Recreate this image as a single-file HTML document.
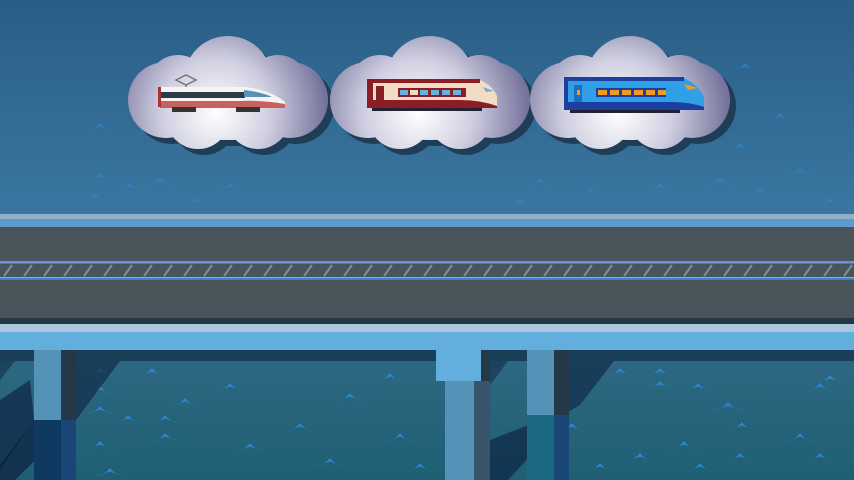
<!DOCTYPE html>
<html><head><meta charset="utf-8"><style>
html,body{margin:0;padding:0;width:854px;height:480px;overflow:hidden;background:#2b6089}
svg{display:block}
</style></head><body>
<svg width="854" height="480" viewBox="0 0 854 480" xmlns="http://www.w3.org/2000/svg">
<defs>
<linearGradient id="sky" x1="0" y1="0" x2="0" y2="1">
<stop offset="0" stop-color="#2a5d86"/><stop offset="1" stop-color="#3a77a0"/>
</linearGradient>
<linearGradient id="water" x1="0" y1="0" x2="0" y2="1">
<stop offset="0" stop-color="#2f6883"/><stop offset="1" stop-color="#1f5f74"/>
</linearGradient>
<radialGradient id="cg" gradientUnits="userSpaceOnUse" cx="-12" cy="18" r="110"><stop offset="0" stop-color="#ffffff"/><stop offset="0.5" stop-color="#cfcee0"/><stop offset="1" stop-color="#75739c"/></radialGradient>
<g id="cloud">
<circle cx="0" cy="-15" r="44"/>
<circle cx="-62" cy="5" r="38"/>
<circle cx="62" cy="5" r="38"/>
<circle cx="-30" cy="22" r="32"/>
<circle cx="30" cy="22" r="32"/>
<circle cx="-50" cy="-10" r="30"/>
<circle cx="50" cy="-10" r="30"/>
<ellipse cx="0" cy="10" rx="70" ry="35"/>
</g>
<path id="wave" d="M-14 1 Q-5 0 0 -7 Q5 0 14 1 Q5 -1.5 0 -3.5 Q-5 -1.5 -14 1Z" fill="#2a88d4"/>
</defs>
<rect width="854" height="215" fill="url(#sky)"/>
<g opacity="0.75">
<use href="#wave" x="100" y="180"/><use href="#wave" x="130" y="190"/><use href="#wave" x="160" y="185"/><use href="#wave" x="230" y="190"/><use href="#wave" x="95" y="200"/><use href="#wave" x="195" y="205"/><use href="#wave" x="540" y="185"/><use href="#wave" x="590" y="195"/><use href="#wave" x="660" y="190"/><use href="#wave" x="720" y="185"/><use href="#wave" x="760" y="195"/><use href="#wave" x="800" y="175"/><use href="#wave" x="740" y="150"/><use href="#wave" x="780" y="120"/><use href="#wave" x="745" y="70"/><use href="#wave" x="100" y="130"/><use href="#wave" x="520" y="205"/><use href="#wave" x="830" y="205"/>
</g>
<!-- clouds -->
<g fill="#1f3d56"><use href="#cloud" x="234" y="101"/><use href="#cloud" x="436" y="101"/><use href="#cloud" x="636" y="101"/></g>
<g fill="url(#cg)">
<use href="#cloud" x="228" y="95"/>
<use href="#cloud" x="430" y="95"/>
<use href="#cloud" x="630" y="95"/>
</g>
<!-- train 1 -->
<g>
<path d="M176 80 L186 75 L196 80 L186 85Z" fill="none" stroke="#777" stroke-width="1.5"/>
<line x1="186" y1="85" x2="186" y2="88" stroke="#555"/>
<path d="M160 87 L245 87 Q270 90 285 102 L285 106 L160 106Z" fill="#f4f4f4"/>
<rect x="160" y="92" width="85" height="6" fill="#2d3a4a"/>
<path d="M244 90 Q262 92 272 97 L244 97Z" fill="#5a8fb8"/>
<path d="M160 101 L240 101 Q262 100 285 104 L285 108 L160 108Z" fill="#c9605e"/>
<rect x="158" y="87" width="3" height="20" fill="#a33"/>
<rect x="172" y="107" width="24" height="5" fill="#333"/><rect x="236" y="107" width="24" height="5" fill="#333"/>
</g>
<!-- train 2 -->
<g>
<path d="M367 80 L480 80 Q493 86 497 96 L497 108 L367 108Z" fill="#f3dcc4"/>
<rect x="367" y="79" width="113" height="4" fill="#8b1d25"/>
<rect x="367" y="80" width="6" height="28" fill="#8b1d25"/>
<rect x="376" y="86" width="8" height="20" fill="#8b1d25"/>
<rect x="398" y="88" width="68" height="9" fill="#8b1d25"/>
<g fill="#6ab0e0"><rect x="400" y="90" width="8" height="5"/><rect x="410" y="90" width="8" height="5" fill="#f3dcc4"/><rect x="420" y="90" width="8" height="5"/><rect x="431" y="90" width="8" height="5"/><rect x="442" y="90" width="8" height="5"/><rect x="453" y="90" width="8" height="5"/></g>
<path d="M367 100 L460 100 Q480 100 497 106 L497 108 L367 108Z" fill="#8b1d25"/>
<path d="M483 87 L494 91 L486 92Z" fill="#6ab0e0"/>
<rect x="372" y="108" width="110" height="3" fill="#223"/>
</g>
<!-- train 3 -->
<g>
<path d="M564 78 L684 78 Q700 86 704 98 L704 108 L564 108Z" fill="#2fa0e6"/>
<rect x="564" y="77" width="120" height="4" fill="#1c3fa0"/>
<rect x="564" y="80" width="4" height="28" fill="#1c3fa0"/>
<rect x="574" y="85" width="8" height="20" fill="#1c6fc0"/>
<rect x="577" y="90" width="3" height="5" fill="#f59a20"/>
<rect x="596" y="88" width="70" height="9" fill="#1c3fa0"/>
<g fill="#f59a20"><rect x="598" y="90" width="9" height="5"/><rect x="610" y="90" width="9" height="5"/><rect x="622" y="90" width="9" height="5"/><rect x="634" y="90" width="9" height="5"/><rect x="646" y="90" width="9" height="5"/><rect x="658" y="90" width="8" height="5"/></g>
<path d="M564 102 L670 102 Q690 102 704 107 L704 110 L564 110Z" fill="#1c3fa0"/>
<path d="M684 84 L698 88 L688 90Z" fill="#f59a20"/>
<rect x="570" y="110" width="110" height="3" fill="#223"/>
</g>
<!-- bridge deck -->
<rect x="0" y="214" width="854" height="5" fill="#8fb0c6"/>
<rect x="0" y="219" width="854" height="8" fill="#5c9bcb"/>
<rect x="0" y="227" width="854" height="91" fill="#4a555b"/>
<rect x="0" y="261" width="854" height="3" fill="#3d7ed4"/>
<line x1="0" y1="262" x2="854" y2="262" stroke="#a0c0e0" stroke-width="0.8"/>
<g stroke="#7a8e9c" stroke-width="2">
<path d="M4 276 L12 265 M24 276 L32 265 M44 276 L52 265 M64 276 L72 265 M84 276 L92 265 M104 276 L112 265 M124 276 L132 265 M144 276 L152 265 M164 276 L172 265 M184 276 L192 265 M204 276 L212 265 M224 276 L232 265 M244 276 L252 265 M264 276 L272 265 M284 276 L292 265 M304 276 L312 265 M324 276 L332 265 M344 276 L352 265 M364 276 L372 265 M384 276 L392 265 M404 276 L412 265 M424 276 L432 265 M444 276 L452 265 M464 276 L472 265 M484 276 L492 265 M504 276 L512 265 M524 276 L532 265 M544 276 L552 265 M564 276 L572 265 M584 276 L592 265 M604 276 L612 265 M624 276 L632 265 M644 276 L652 265 M664 276 L672 265 M684 276 L692 265 M704 276 L712 265 M724 276 L732 265 M744 276 L752 265 M764 276 L772 265 M784 276 L792 265 M804 276 L812 265 M824 276 L832 265 M844 276 L852 265"/>
</g>
<rect x="0" y="277" width="854" height="3" fill="#3d7ed4"/>
<line x1="0" y1="277.5" x2="854" y2="277.5" stroke="#a0c0e0" stroke-width="0.8"/>
<rect x="0" y="318" width="854" height="6" fill="#233947"/>
<rect x="0" y="324" width="854" height="8" fill="#aac8dc"/>
<rect x="0" y="332" width="854" height="18" fill="#62aedc"/>
<!-- water -->
<rect x="0" y="350" width="854" height="130" fill="url(#water)"/>
<rect x="0" y="350" width="854" height="11" fill="#193e58"/>
<g>
<use href="#wave" x="100" y="375"/><use href="#wave" x="152" y="375"/><use href="#wave" x="100" y="393"/><use href="#wave" x="185" y="405"/><use href="#wave" x="230" y="390"/><use href="#wave" x="100" y="413"/><use href="#wave" x="128" y="422"/><use href="#wave" x="165" y="422"/><use href="#wave" x="100" y="448"/><use href="#wave" x="165" y="440"/><use href="#wave" x="110" y="475"/><use href="#wave" x="250" y="450"/><use href="#wave" x="300" y="430"/><use href="#wave" x="350" y="400"/><use href="#wave" x="390" y="380"/><use href="#wave" x="330" y="465"/><use href="#wave" x="400" y="440"/><use href="#wave" x="420" y="470"/>
<use href="#wave" x="572" y="430"/><use href="#wave" x="620" y="375"/><use href="#wave" x="660" y="375"/><use href="#wave" x="698" y="390"/><use href="#wave" x="660" y="388"/><use href="#wave" x="728" y="409"/><use href="#wave" x="742" y="429"/><use href="#wave" x="684" y="448"/><use href="#wave" x="640" y="460"/><use href="#wave" x="740" y="460"/><use href="#wave" x="820" y="390"/><use href="#wave" x="830" y="382"/><use href="#wave" x="820" y="460"/><use href="#wave" x="600" y="470"/><use href="#wave" x="700" y="470"/><use href="#wave" x="800" y="440"/>
</g>
<!-- shadows -->
<polygon points="76,361 120,361 76,420" fill="#0c2240" opacity="0.6"/>
<polygon points="0,361 15,361 0,380" fill="#0c2240" opacity="0.5"/>
<polygon points="0,400 30,380 34,420 0,470" fill="#0a1a3c" opacity="0.6"/>
<polygon points="34,420 76,420 15,480 0,480 0,465" fill="#0a1a3c" opacity="0.65"/>
<polygon points="490,361 508,361 490,385" fill="#0c2240" opacity="0.5"/>
<polygon points="569,361 614,361 580,405 554,420 554,361" fill="#0c2240" opacity="0.6"/>
<polygon points="490,440 554,415 554,430 508,480 490,480" fill="#0a1a3c" opacity="0.6"/>
<!-- pillars -->
<rect x="34" y="350" width="27" height="70" fill="#5592b8"/>
<rect x="34" y="420" width="27" height="60" fill="#0e3a60"/>
<rect x="61" y="350" width="15" height="70" fill="#253848"/>
<rect x="61" y="420" width="15" height="60" fill="#1a4577"/>
<rect x="436" y="350" width="45" height="31" fill="#62aedc"/>
<rect x="445" y="381" width="29" height="99" fill="#5592b8"/>
<rect x="474" y="381" width="16" height="99" fill="#37546a"/>
<rect x="481" y="350" width="9" height="31" fill="#253848"/>
<rect x="527" y="350" width="27" height="65" fill="#5592b8"/>
<rect x="527" y="415" width="27" height="65" fill="#1b6a82"/>
<rect x="554" y="350" width="15" height="65" fill="#253848"/>
<rect x="554" y="415" width="15" height="65" fill="#1a4577"/>
</svg>
</body></html>
